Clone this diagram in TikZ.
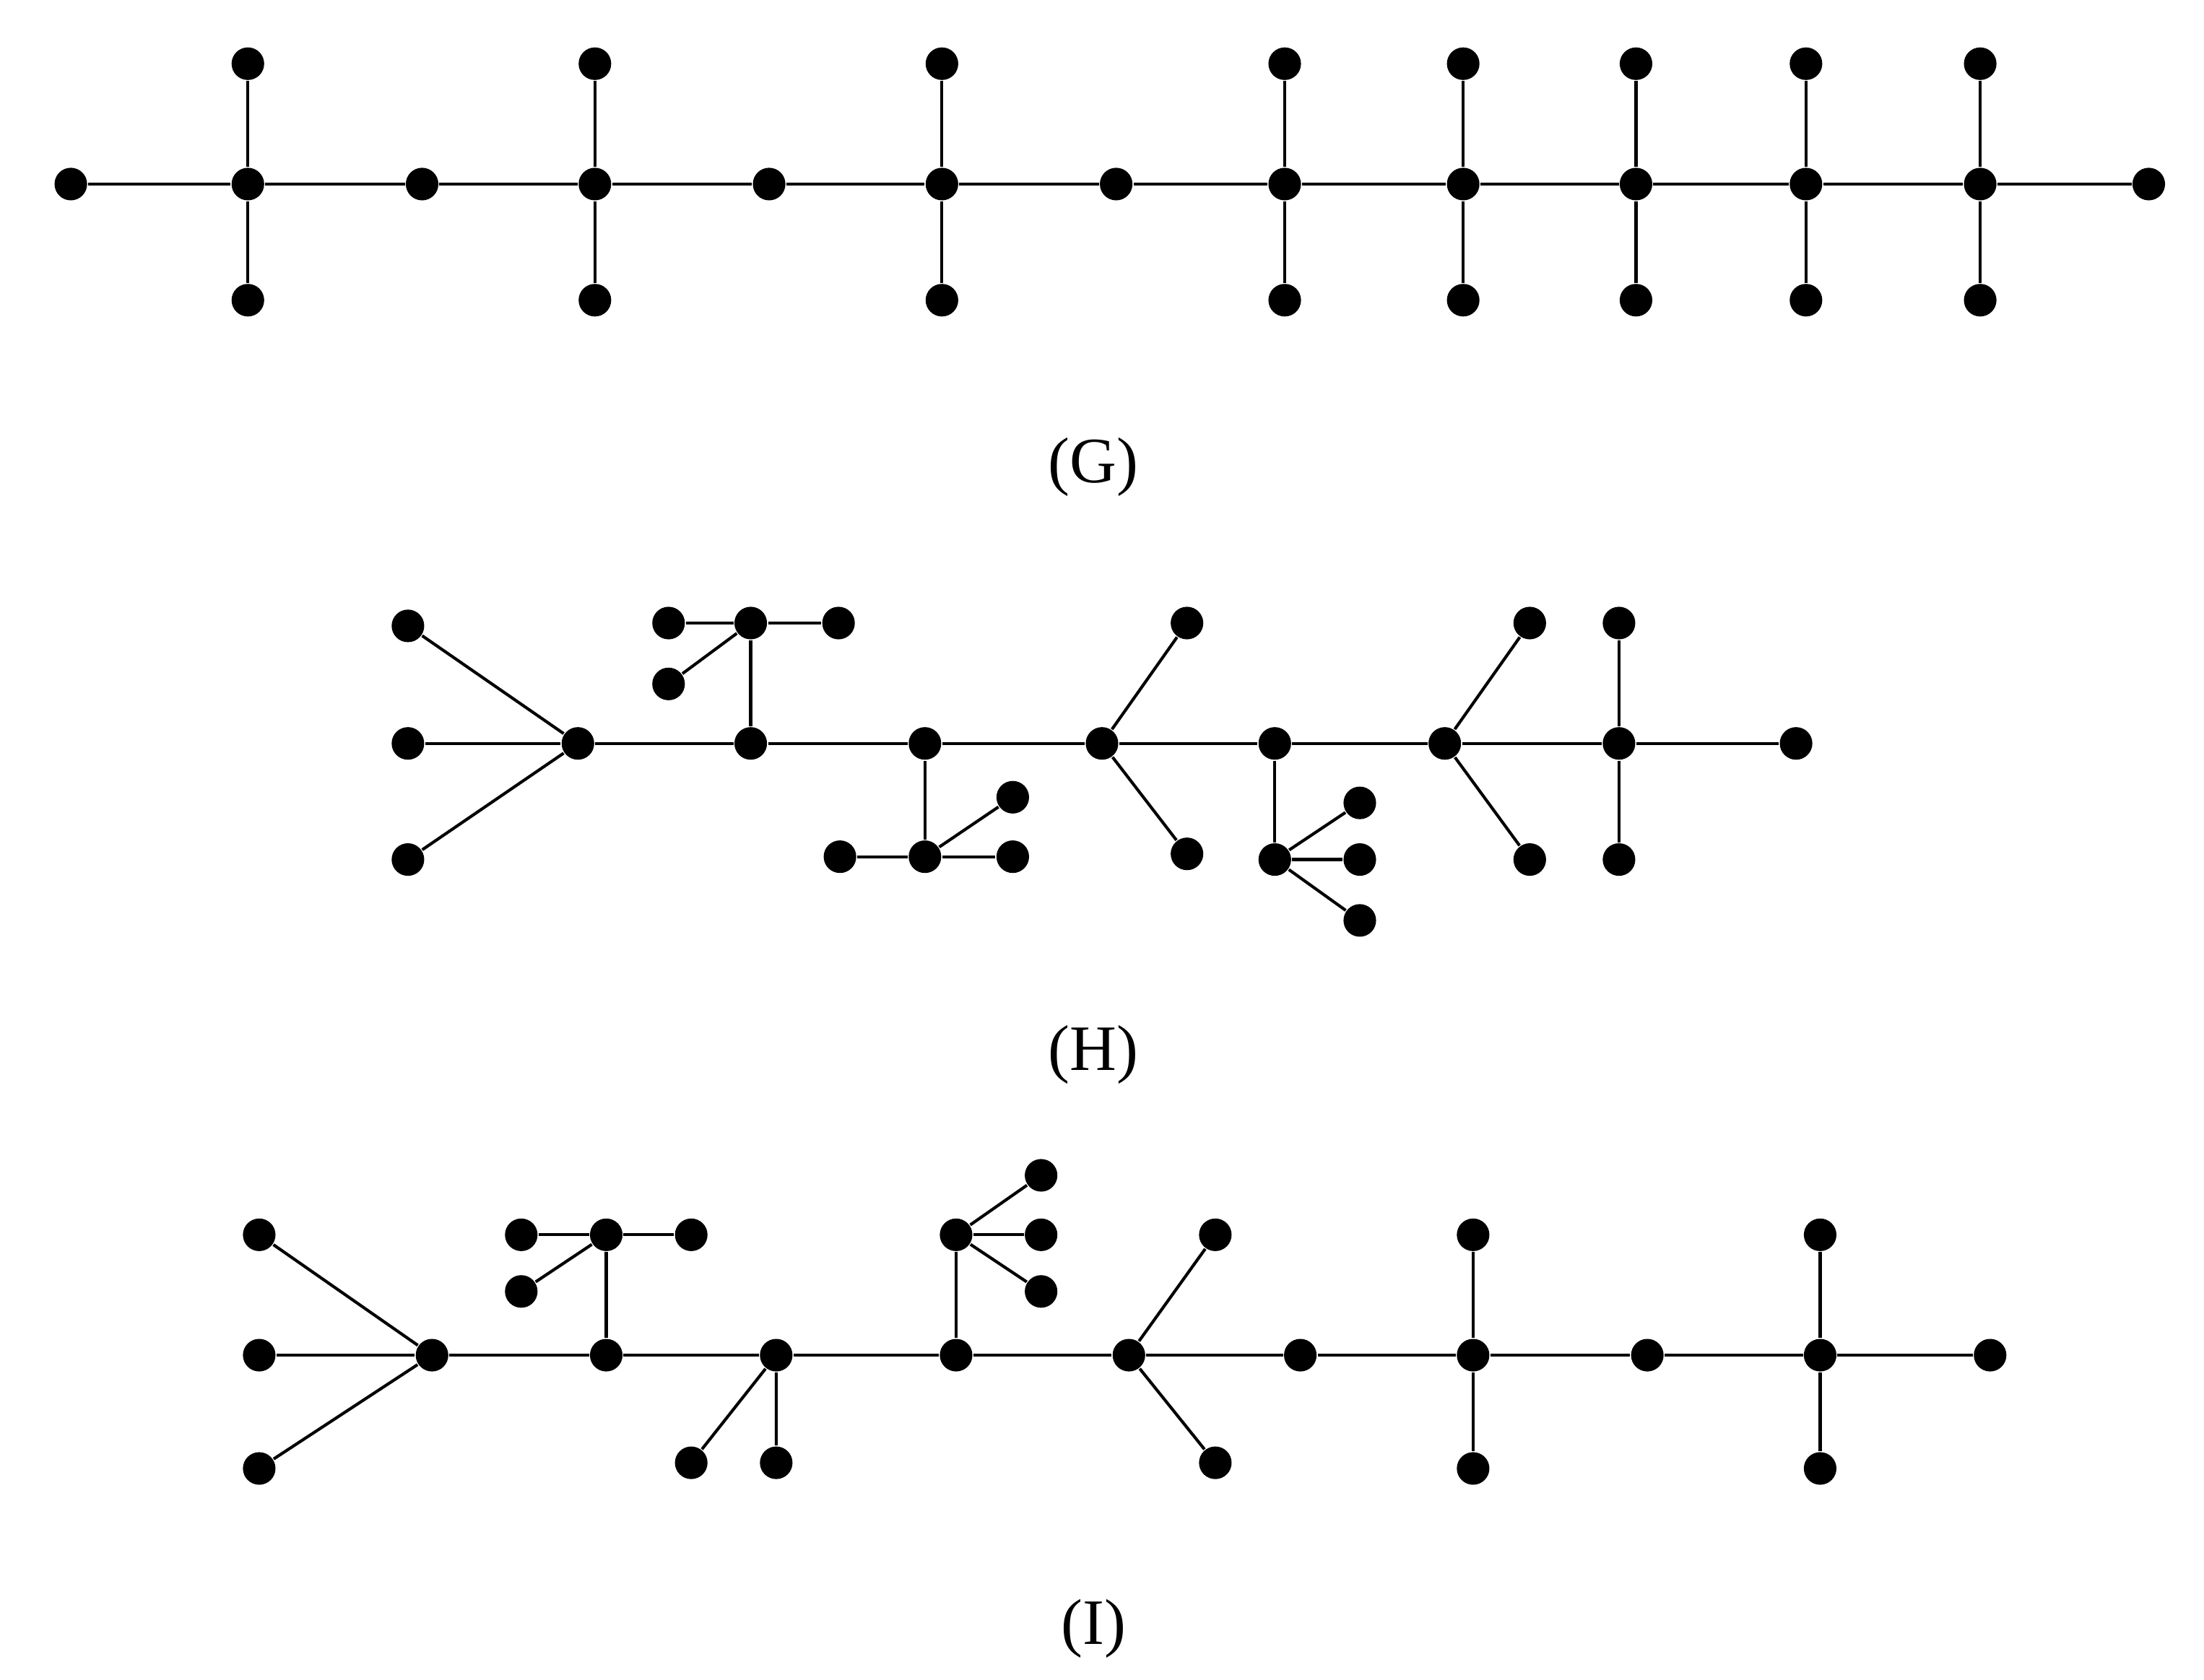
\documentclass[tikz,border=0pt]{standalone}
\usepackage{fontspec}
\setmainfont{Liberation Serif}
\begin{document}
\begin{tikzpicture}[x=0.01cm,y=-0.01cm,
  dot/.style={circle,fill=black,inner sep=0pt,minimum size=0.23cm},
  edge/.style={line width=0.6pt},
  lab/.style={font=\fontsize{13}{15}\selectfont}]
\useasboundingbox (0,0) rectangle (1556,1186);
% ---------- G ----------
\foreach \x [count=\i] in {50,175,298,420,543,665,788,907,1033,1155,1275,1398,1517}
  \node[dot] (g\i) at (\x,130) {};
\foreach \i in {1,...,12}{\pgfmathtruncatemacro\j{\i+1}\draw[edge] (g\i) -- (g\j);}
\foreach \i/\x in {2/175,4/420,6/665,8/907,9/1033,10/1155,11/1275,12/1398}{
  \node[dot] (gt\i) at (\x,45) {};
  \node[dot] (gb\i) at (\x,212) {};
  \draw[edge] (gt\i) -- (g\i) -- (gb\i);}
\node[lab] (LG) at (772,330) {(G)};
% ---------- H ----------
\foreach \x [count=\i] in {408,530,653,778,900,1020,1143,1268}
  \node[dot] (h\i) at (\x,525) {};
\foreach \i in {1,...,7}{\pgfmathtruncatemacro\j{\i+1}\draw[edge] (h\i) -- (h\j);}
\node[dot] (ha1) at (288,442) {}; \node[dot] (ha2) at (288,525) {}; \node[dot] (ha3) at (288,607) {};
\foreach \k in {1,2,3} \draw[edge] (h1) -- (ha\k);
\node[dot] (hb) at (530,440) {}; \draw[edge] (h2) -- (hb);
\node[dot] (hb1) at (472,440) {}; \node[dot] (hb2) at (592,440) {}; \node[dot] (hb3) at (472,483) {};
\foreach \k in {1,2,3} \draw[edge] (hb) -- (hb\k);
\node[dot] (hc) at (653,605) {}; \draw[edge] (h3) -- (hc);
\node[dot] (hc1) at (593,605) {}; \node[dot] (hc2) at (715,605) {}; \node[dot] (hc3) at (715,563) {};
\foreach \k in {1,2,3} \draw[edge] (hc) -- (hc\k);
\node[dot] (hd1) at (838,440) {}; \node[dot] (hd2) at (838,603) {};
\draw[edge] (hd1) -- (h4) -- (hd2);
\node[dot] (he) at (900,607) {}; \draw[edge] (h5) -- (he);
\node[dot] (he1) at (960,567) {}; \node[dot] (he2) at (960,607) {}; \node[dot] (he3) at (960,650) {};
\foreach \k in {1,2,3} \draw[edge] (he) -- (he\k);
\node[dot] (hf1) at (1080,440) {}; \node[dot] (hf2) at (1080,607) {};
\draw[edge] (hf1) -- (h6) -- (hf2);
\node[dot] (hg1) at (1143,440) {}; \node[dot] (hg2) at (1143,607) {};
\draw[edge] (hg1) -- (h7) -- (hg2);
\node[lab] (LH) at (772,745) {(H)};
% ---------- I ----------
\foreach \x [count=\i] in {305,428,548,675,797,918,1040,1163,1285,1405}
  \node[dot] (i\i) at (\x,957) {};
\foreach \i in {1,...,9}{\pgfmathtruncatemacro\j{\i+1}\draw[edge] (i\i) -- (i\j);}
\node[dot] (ia1) at (183,872) {}; \node[dot] (ia2) at (183,957) {}; \node[dot] (ia3) at (183,1037) {};
\foreach \k in {1,2,3} \draw[edge] (i1) -- (ia\k);
\node[dot] (ib) at (428,872) {}; \draw[edge] (i2) -- (ib);
\node[dot] (ib1) at (368,872) {}; \node[dot] (ib2) at (488,872) {}; \node[dot] (ib3) at (368,912) {};
\foreach \k in {1,2,3} \draw[edge] (ib) -- (ib\k);
\node[dot] (ic1) at (488,1033) {}; \node[dot] (ic2) at (548,1033) {};
\draw[edge] (ic1) -- (i3) -- (ic2);
\node[dot] (id) at (675,872) {}; \draw[edge] (i4) -- (id);
\node[dot] (id1) at (735,830) {}; \node[dot] (id2) at (735,872) {}; \node[dot] (id3) at (735,912) {};
\foreach \k in {1,2,3} \draw[edge] (id) -- (id\k);
\node[dot] (ie1) at (858,872) {}; \node[dot] (ie2) at (858,1033) {};
\draw[edge] (ie1) -- (i5) -- (ie2);
\node[dot] (if1) at (1040,872) {}; \node[dot] (if2) at (1040,1037) {};
\draw[edge] (if1) -- (i7) -- (if2);
\node[dot] (ig1) at (1285,872) {}; \node[dot] (ig2) at (1285,1037) {};
\draw[edge] (ig1) -- (i9) -- (ig2);
\node[lab] (LI) at (772,1150) {(I)};
\end{tikzpicture}
\end{document}
